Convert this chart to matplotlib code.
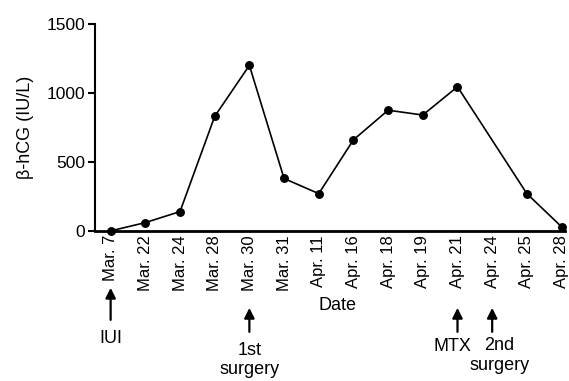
import numpy as np
import matplotlib.pyplot as plt
import matplotlib.transforms as mtransforms

plt.rcParams['font.family'] = ['Liberation Sans', 'DejaVu Sans']

# Data
dates = ['Mar. 7', 'Mar. 22', 'Mar. 24', 'Mar. 28', 'Mar. 30', 'Mar. 31', 'Apr. 11',
         'Apr. 16', 'Apr. 18', 'Apr. 19', 'Apr. 21', 'Apr. 24', 'Apr. 25', 'Apr. 28']
hcg = [0, 60, 140, 830, 1200, 380, 270, 660, 875, 840, 1045, np.nan, 270, 30]
events = ['IUI', '1st\nsurgery', 'MTX', '2nd\nsurgery']
event_dates = ['Mar. 7', 'Mar. 30', 'Apr. 21', 'Apr. 24']

fig = plt.figure(figsize=(5.69, 3.81), dpi=100)
ax = fig.add_axes([0.167, 0.394, 0.826, 0.543])

x = np.arange(len(dates))
y = np.array(hcg, dtype=float)
ok = ~np.isnan(y)
ax.plot(x[ok], y[ok], color='black', lw=1.2, marker='o', ms=5.4, clip_on=False, zorder=3)

ax.set_xlim(-0.45, 13.1)
ax.set_ylim(0, 1500)
ax.set_yticks([0, 500, 1000, 1500])
ax.set_xticks(x)
ax.set_xticklabels(dates, rotation=90, fontsize=12)
ax.tick_params(axis='x', length=0, pad=3)
ax.tick_params(axis='y', labelsize=12.5, length=5, width=1.5, pad=2)
ax.spines['top'].set_visible(False)
ax.spines['right'].set_visible(False)
ax.spines['left'].set_linewidth(1.5)
ax.spines['bottom'].set_linewidth(2)
ax.set_ylabel('β-hCG (IU/L)', fontsize=13, labelpad=9)

trans = mtransforms.blended_transform_factory(ax.transData, ax.transAxes)
ax.text(6.55, -0.36, 'Date', transform=trans, ha='center', va='center', fontsize=13)

for name, d in zip(events, event_dates):
    xi = dates.index(d)
    if name == 'IUI':
        y0, y1, yt = -0.43, -0.275, -0.48
    else:
        y0, y1, yt = -0.488, -0.372, -0.535
    ax.annotate('', xy=(xi, y1), xytext=(xi, y0), xycoords=trans, textcoords=trans,
                arrowprops=dict(arrowstyle='-|>', color='black', lw=1.6,
                                mutation_scale=15, shrinkA=0, shrinkB=0),
                annotation_clip=False)
    dx = 0
    if name == 'MTX':
        dx = -0.15
        yt = -0.52
    if name == '2nd\nsurgery':
        dx = 0.2
        yt = -0.515
    ax.text(xi + dx, yt, name, transform=trans, ha='center', va='top',
            fontsize=13, linespacing=1.2, clip_on=False)

fig.savefig('out.png', dpi=100)
